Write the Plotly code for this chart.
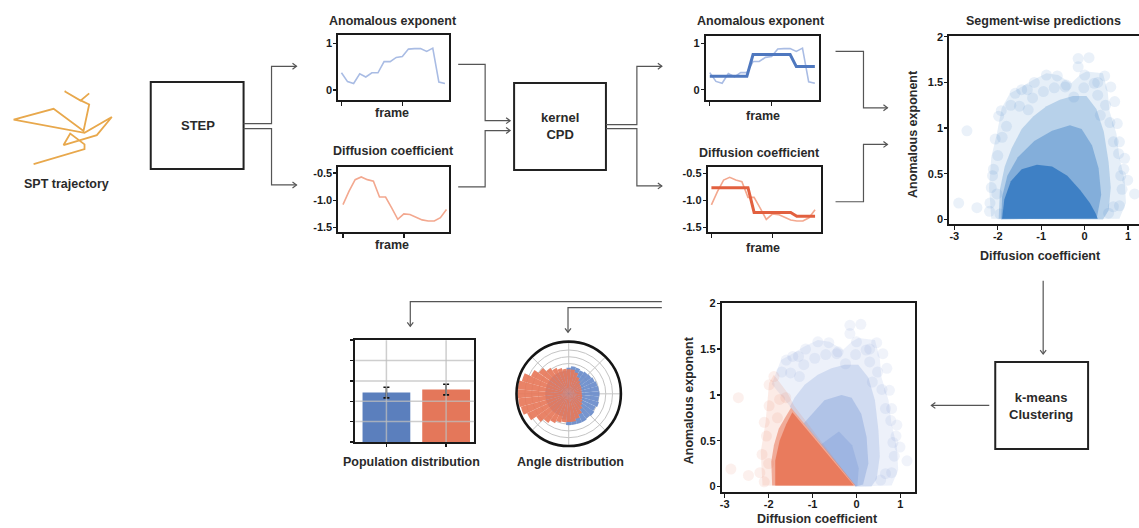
import plotly.graph_objects as go

W, H = 1139, 528
def X(px): return px / W
def Y(py): return 1 - py / H

# ---------------- data ----------------
frame_idx = [0, 1, 2, 3, 4, 5, 6, 7, 8, 9, 10, 11, 12, 13, 14, 15, 16, 17]
alpha_track = [0.37, 0.18, 0.14, 0.35, 0.28, 0.37, 0.37, 0.61, 0.61, 0.70, 0.72, 0.88, 0.89, 0.89, 0.83, 0.90, 0.17, 0.14]
logD_track = [-1.08, -0.83, -0.62, -0.57, -0.62, -0.65, -0.94, -0.94, -1.14, -1.35, -1.25, -1.26, -1.31, -1.36, -1.38, -1.38, -1.32, -1.17]
seg_x = [0, 6, 7, 13, 14, 17]
seg_alpha = [0.29, 0.29, 0.76, 0.76, 0.50, 0.50]
seg_logD = [-0.76, -0.76, -1.22, -1.22, -1.29, -1.29]

# SPT trajectory (image units)
traj_x = [95, 248, 248, 205, 185, 285, 330, 248, 35, 155, 245, 262, 233, 188, 236, 262]
traj_y = [243, 197, 183, 150, 185, 155, 100, 148, 108, 75, 142, 62, 48, 22, 50, 28]

# segment-wise predictions: density outlines (logD, alpha)
haze_D = [-2.15, -2.2, -2.15, -2.02, -1.91, -1.72, -1.49, -1.18, -0.88, -0.61, -0.31, -0.11, 0.04, 0.42, 0.53, 0.57, 0.73, 0.80, 0.92, 0.95, 0.80, -1.0]
haze_a = [0.01, 0.35, 0.68, 0.94, 1.22, 1.38, 1.44, 1.53, 1.60, 1.58, 1.49, 1.58, 1.62, 1.60, 1.40, 1.19, 0.94, 0.68, 0.43, 0.18, 0.01, 0.0]
mid_D = [-1.98, -1.95, -1.84, -1.68, -1.45, -1.18, -0.88, -0.57, -0.27, 0.04, 0.27, 0.44, 0.55, 0.60, 0.55, 0.42]
mid_a = [0.01, 0.33, 0.58, 0.78, 0.99, 1.13, 1.24, 1.31, 1.35, 1.35, 1.21, 0.96, 0.63, 0.35, 0.10, 0.0]
dense_D = [-1.92, -1.90, -1.78, -1.54, -1.16, -0.75, -0.34, -0.07, 0.17, 0.32, 0.38, 0.28]
dense_a = [0.0, 0.25, 0.48, 0.68, 0.86, 0.97, 1.03, 0.99, 0.81, 0.56, 0.27, 0.02]
core_D = [-1.90, -1.85, -1.70, -1.45, -1.10, -0.75, -0.40, -0.10, 0.12, 0.25, 0.30]
core_a = [0.01, 0.22, 0.42, 0.55, 0.60, 0.58, 0.48, 0.32, 0.18, 0.07, 0.01]
out_D = [-2.90, -2.71, -2.48, -2.19, -2.18, -2.06, -1.98, -1.92, -1.60, -1.45, -1.32, -1.16, -0.88, -0.63, -0.15, 0.10, -0.15, 0.0, 0.46, 0.69, 0.80, 0.92, 0.99, 1.15, 0.80, -2.1, -2.15, -2.0, 0.6, 0.3, -0.45, -1.7, 0.9, 0.75,
         -2.02, -2.12, -1.9, -1.8, -1.5, -1.2, -0.95, -0.7, -0.42, -0.25, -0.02, 0.22, 0.3, 0.48, 0.58, 0.66, 0.78, 0.83, 0.86, 0.66, 0.55, -1.95, 0.36, -1.3]
out_a = [0.18, 0.97, 0.13, 0.09, 0.18, 0.88, 1.13, 1.19, 1.38, 1.42, 1.42, 1.50, 1.58, 1.57, 1.76, 1.77, 1.67, 1.58, 1.57, 1.29, 0.85, 0.67, 0.43, 0.28, 0.15, 0.55, 0.35, 0.70, 1.45, 1.50, 1.45, 1.25, 0.55, 1.05,
         0.28, 0.48, 0.9, 1.02, 1.24, 1.33, 1.4, 1.44, 1.47, 1.34, 1.44, 1.49, 1.36, 1.25, 1.06, 0.85, 0.72, 0.48, 0.33, 0.14, 0.07, 0.06, 1.14, 1.2]

# k-means clusters (logD, alpha)
or_haze_D = [-2.14, -2.18, -2.07, -1.99, -1.88, -1.58, -1.42, -0.02]
or_haze_a = [0.01, 0.38, 0.70, 1.13, 1.22, 1.03, 0.88, 0.0]
or_dense_D = [-1.92, -1.94, -1.88, -1.77, -1.64, -1.49, -0.02]
or_dense_a = [0.01, 0.27, 0.45, 0.63, 0.74, 0.86, 0.01]
or_core_D = [-1.85, -1.85, -1.75, -1.60, -1.46, -0.06]
or_core_a = [0.01, 0.28, 0.50, 0.68, 0.81, 0.01]
or_out_D = [-2.86, -2.69, -2.46, -2.2, -2.15, -1.99, -1.88, -1.99, -1.61, -2.05, -2.1, -2.0, -1.75, -2.1, -1.8]
or_out_a = [0.19, 0.97, 0.12, 0.15, 0.35, 1.11, 1.20, 0.88, 0.97, 0.55, 0.70, 0.25, 0.95, 0.05, 0.75]
bl_haze_D = [-1.93, -1.72, -1.49, -1.18, -0.88, -0.61, -0.31, -0.11, 0.04, 0.42, 0.53, 0.57, 0.73, 0.80, 0.92, 0.95, 0.80, -0.02]
bl_haze_a = [1.12, 1.38, 1.44, 1.53, 1.60, 1.58, 1.49, 1.58, 1.62, 1.60, 1.40, 1.19, 0.94, 0.68, 0.43, 0.18, 0.01, 0.0]
bl_mid_D = [-1.52, -1.41, -1.18, -0.88, -0.57, -0.27, 0.04, 0.27, 0.42, 0.50, 0.53, 0.46, 0.34, -0.02]
bl_mid_a = [0.87, 0.97, 1.11, 1.22, 1.29, 1.33, 1.33, 1.19, 0.94, 0.61, 0.33, 0.08, 0.0, 0.0]
bl_dense_D = [-1.2, -0.73, -0.34, -0.11, 0.11, 0.23, 0.27, 0.15, -0.02]
bl_dense_a = [0.69, 0.94, 1.00, 0.97, 0.79, 0.54, 0.25, 0.02, 0.0]
bl_core_D = [-0.8, -0.4, -0.1, 0.05, 0.02, -0.02]
bl_core_a = [0.46, 0.6, 0.45, 0.2, 0.01, 0.0]
bl_out_D = [-1.60, -1.45, -1.32, -1.16, -0.88, -0.63, -0.15, 0.10, -0.15, 0.0, 0.46, 0.69, 0.80, 0.92, 0.99, 1.15, 0.80, 0.6, 0.3, -0.45, -1.7, 0.9, 0.75,
            -1.5, -1.2, -0.95, -0.7, -0.42, -0.25, -0.02, 0.22, 0.3, 0.48, 0.58, 0.66, 0.78, 0.83, 0.86, 0.66, 0.55, 0.36, -1.3]
bl_out_a = [1.38, 1.42, 1.42, 1.50, 1.58, 1.57, 1.76, 1.77, 1.67, 1.58, 1.57, 1.29, 0.85, 0.67, 0.43, 0.28, 0.15, 1.45, 1.50, 1.45, 1.25, 0.55, 1.05,
            1.24, 1.33, 1.4, 1.44, 1.47, 1.34, 1.44, 1.49, 1.36, 1.25, 1.06, 0.85, 0.72, 0.48, 0.33, 0.14, 0.07, 1.14, 1.2]

# population distribution
pop_x = [0, 1]
pop_values = [0.485, 0.515]
pop_err = [0.052, 0.052]

# angle distribution
angle_bins = [0, 10, 20, 30, 40, 50, 60, 70, 80, 90, 100, 110, 120, 130, 140, 150, 160, 170,
              180, 190, 200, 210, 220, 230, 240, 250, 260, 270, 280, 290, 300, 310, 320, 330, 340, 350]
orange_r = [0.25, 0.25, 0.26, 0.27, 0.28, 0.32, 0.36, 0.43, 0.47, 0.47, 0.48, 0.51, 0.55, 0.61, 0.70, 0.80, 0.93, 0.98,
            0.98, 0.97, 0.95, 0.88, 0.76, 0.68, 0.62, 0.57, 0.55, 0.54, 0.54, 0.50, 0.44, 0.37, 0.32, 0.29, 0.27, 0.26]
blue_r = [0.59, 0.58, 0.57, 0.55, 0.53, 0.52, 0.50, 0.52, 0.53, 0.50, 0.45, 0.45, 0.45, 0.45, 0.45, 0.45, 0.45, 0.45,
          0.45, 0.45, 0.45, 0.45, 0.45, 0.45, 0.45, 0.45, 0.50, 0.60, 0.60, 0.60, 0.60, 0.58, 0.60, 0.57, 0.60, 0.58]

# ---------------- styles ----------------
FONT = "Liberation Sans, Arial, sans-serif"
TXT = "#2a2a2a"
LIGHT_BLUE = "#a9bce4"
DARK_BLUE = "#4f78bf"
LIGHT_OR = "#f3a88f"
DARK_OR = "#e2603f"
TRAJ = "#e8a84c"

fig = go.Figure()

def poly(xs, ys, color, xa, ya):
    fig.add_trace(go.Scatter(x=xs, y=ys, mode="lines", fill="toself", fillcolor=color,
                             line=dict(width=0), hoverinfo="skip", xaxis=xa, yaxis=ya))

# small line plots
fig.add_trace(go.Scatter(x=frame_idx, y=alpha_track, mode="lines", line=dict(color=LIGHT_BLUE, width=1.6), xaxis="x", yaxis="y"))
fig.add_trace(go.Scatter(x=frame_idx, y=logD_track, mode="lines", line=dict(color=LIGHT_OR, width=1.6), xaxis="x2", yaxis="y2"))
fig.add_trace(go.Scatter(x=frame_idx, y=alpha_track, mode="lines", line=dict(color=LIGHT_BLUE, width=1.6), xaxis="x3", yaxis="y3"))
fig.add_trace(go.Scatter(x=seg_x, y=seg_alpha, mode="lines", line=dict(color=DARK_BLUE, width=3), xaxis="x3", yaxis="y3"))
fig.add_trace(go.Scatter(x=frame_idx, y=logD_track, mode="lines", line=dict(color=LIGHT_OR, width=1.6), xaxis="x4", yaxis="y4"))
fig.add_trace(go.Scatter(x=seg_x, y=seg_logD, mode="lines", line=dict(color=DARK_OR, width=3), xaxis="x4", yaxis="y4"))

# segment-wise predictions scatter
B1 = "52,122,194"
poly(haze_D, haze_a, f"rgba({B1},0.12)", "x5", "y5")
poly(mid_D, mid_a, f"rgba({B1},0.26)", "x5", "y5")
poly(dense_D, dense_a, f"rgba({B1},0.40)", "x5", "y5")
poly(core_D, core_a, f"rgba({B1},0.88)", "x5", "y5")
fig.add_trace(go.Scatter(x=out_D, y=out_a, mode="markers",
                         marker=dict(size=11, color=f"rgba({B1},0.10)", line=dict(width=0)),
                         xaxis="x5", yaxis="y5"))

# clustered scatter
B2 = "104,140,210"
O2 = "232,118,88"
poly(bl_haze_D, bl_haze_a, f"rgba({B2},0.12)", "x6", "y6")
poly(bl_mid_D, bl_mid_a, f"rgba({B2},0.22)", "x6", "y6")
poly(bl_dense_D, bl_dense_a, f"rgba({B2},0.3)", "x6", "y6")
poly(bl_core_D, bl_core_a, f"rgba({B2},0.25)", "x6", "y6")
fig.add_trace(go.Scatter(x=bl_out_D, y=bl_out_a, mode="markers",
                         marker=dict(size=11, color=f"rgba({B2},0.10)", line=dict(width=0)),
                         xaxis="x6", yaxis="y6"))
poly(or_haze_D, or_haze_a, f"rgba({O2},0.15)", "x6", "y6")
poly(or_dense_D, or_dense_a, f"rgba({O2},0.55)", "x6", "y6")
poly(or_core_D, or_core_a, f"rgba({O2},0.92)", "x6", "y6")
fig.add_trace(go.Scatter(x=or_out_D, y=or_out_a, mode="markers",
                         marker=dict(size=11, color=f"rgba({O2},0.11)", line=dict(width=0)),
                         xaxis="x6", yaxis="y6"))

# population bars
fig.add_trace(go.Bar(x=pop_x, y=pop_values, width=0.8, marker=dict(color=["#5b7fbd", "#e4775a"], line=dict(width=0)),
                     error_y=dict(type="data", array=pop_err, color="#111", thickness=1.6, width=3),
                     xaxis="x7", yaxis="y7"))

# trajectory
fig.add_trace(go.Scatter(x=traj_x, y=traj_y, mode="lines", line=dict(color=TRAJ, width=1.8), xaxis="x8", yaxis="y8"))

# angle distribution
fig.add_trace(go.Barpolar(r=blue_r, theta=angle_bins, width=10, marker=dict(color="#6b8dcb", line=dict(width=0)), opacity=0.92))
fig.add_trace(go.Barpolar(r=orange_r, theta=angle_bins, width=10, marker=dict(color="#e8795b", line=dict(width=0)), opacity=0.92))

# ---------------- axes ----------------
tickfont = dict(family=FONT, size=11, color="#1a1a1a", weight="bold")

def frame_axis(dom, rng, mirror=True, **kw):
    d = dict(domain=dom, range=rng, showline=True, linewidth=2, linecolor="#1a1a1a", mirror=mirror,
             ticks="outside", ticklen=3, tickwidth=1.3, tickcolor="#1a1a1a", showgrid=False,
             zeroline=False, tickfont=tickfont, fixedrange=True, ticklabelstandoff=-1)
    d.update(kw)
    return d

D_TICKS = [-3, -2, -1, 0, 1]
D_TEXT = ["-3", "-2", "-1", "0", "1"]
A_TICKS = [0, 0.5, 1, 1.5, 2]
A_TEXT = ["0", "0.5", "1", "1.5", "2"]

lay = dict(
    width=W, height=H, margin=dict(l=0, r=0, t=0, b=0),
    paper_bgcolor="white", plot_bgcolor="white", showlegend=False,
    font=dict(family=FONT, color=TXT),
)
XS = -4  # x tick label standoff
# A1
lay["xaxis"] = frame_axis([X(337), X(448)], [-0.5, 17.7], anchor="y", tickvals=[0, 10], showticklabels=False, ticklen=4)
lay["yaxis"] = frame_axis([Y(96), Y(30)], [-0.213, 1.19], anchor="x", tickvals=[0, 1], ticktext=["0", "1"])
# D1
lay["xaxis2"] = frame_axis([X(337), X(448)], [-0.75, 17.45], anchor="y2", tickvals=[0, 10], showticklabels=False, ticklen=4)
lay["yaxis2"] = frame_axis([Y(230), Y(164)], [-1.59, -0.39], anchor="x2", tickvals=[-1.5, -1.0, -0.5], ticktext=["-1.5", "-1.0", "-0.5"])
# A2
lay["xaxis3"] = frame_axis([X(705), X(818)], [-0.65, 17.6], anchor="y3", tickvals=[0, 10], showticklabels=False, ticklen=4)
lay["yaxis3"] = frame_axis([Y(96), Y(31)], [-0.22, 1.17], anchor="x3", tickvals=[0, 1], ticktext=["0", "1"])
# D2
lay["xaxis4"] = frame_axis([X(707), X(820)], [-0.6, 17.9], anchor="y4", tickvals=[0, 10], showticklabels=False, ticklen=4)
lay["yaxis4"] = frame_axis([Y(230), Y(164)], [-1.59, -0.38], anchor="x4", tickvals=[-1.5, -1.0, -0.5], ticktext=["-1.5", "-1.0", "-0.5"])
# S1
lay["xaxis5"] = frame_axis([X(949), 1.0], [-3.115, 1.25], anchor="y5", tickvals=D_TICKS, ticktext=D_TEXT, ticklen=4, ticklabelstandoff=XS)
lay["yaxis5"] = frame_axis([Y(222), Y(31)], [-0.054, 2.011], mirror=False, anchor="x5", tickvals=A_TICKS, ticktext=A_TEXT)
# S2
lay["xaxis6"] = frame_axis([X(721), X(915)], [-3.068, 1.341], anchor="y6", tickvals=D_TICKS, ticktext=D_TEXT, ticklen=4, ticklabelstandoff=XS)
lay["yaxis6"] = frame_axis([Y(493), Y(301)], [-0.065, 2.008], anchor="x6", tickvals=A_TICKS, ticktext=A_TEXT)
# Bar
lay["xaxis7"] = frame_axis([X(354), X(473)], [-0.52, 1.47], anchor="y7", tickvals=[0, 1], showticklabels=False, ticklen=3)
lay["yaxis7"] = frame_axis([Y(442), Y(339)], [0, 1], anchor="x7", tickvals=[0, 0.2, 0.4, 0.6, 0.8, 1.0], showticklabels=False, ticklen=3)
# Trajectory
lay["xaxis8"] = dict(domain=[0, X(120)], range=[0, 360], visible=False, anchor="y8", fixedrange=True)
lay["yaxis8"] = dict(domain=[Y(170), Y(80)], range=[270, 0], visible=False, anchor="x8", fixedrange=True)

cx, cy, rad = 567.7, 393.3, 52.8
lay["polar"] = dict(
    domain=dict(x=[X(cx - rad), X(cx + rad)], y=[Y(cy + rad), Y(cy - rad)]),
    bgcolor="white", barmode="overlay",
    radialaxis=dict(range=[0, 1], tickvals=[0.17, 0.3, 0.43, 0.58, 0.71, 0.84], showticklabels=False, ticks="",
                    showline=False, gridcolor="#c4c4c4", gridwidth=1),
    angularaxis=dict(tickvals=[0, 45, 90, 135, 180, 225, 270, 315], showticklabels=False, ticks="",
                     showline=True, linecolor="#151515", linewidth=2.6, gridcolor="#c4c4c4", gridwidth=1,
                     direction="counterclockwise", rotation=0),
)

# ---------------- diagram shapes ----------------
LC = "#555555"
shapes = []

def pline(pts, color=LC, w=1.2):
    p = "M " + " L ".join(f"{X(a):.5f},{Y(b):.5f}" for a, b in pts)
    shapes.append(dict(type="path", path=p, xref="paper", yref="paper", line=dict(color=color, width=w), layer="above"))

def head(x, y, d):
    if d == "r":
        pts = [(x - 4, y - 3), (x, y), (x - 4, y + 3)]
    elif d == "l":
        pts = [(x + 4, y - 3), (x, y), (x + 4, y + 3)]
    else:
        pts = [(x - 3, y - 4), (x, y), (x + 3, y - 4)]
    pline(pts)

def box(x0, y0, x1, y1):
    shapes.append(dict(type="rect", x0=X(x0), x1=X(x1), y0=Y(y1), y1=Y(y0), xref="paper", yref="paper",
                       line=dict(color="#222", width=2), fillcolor="rgba(0,0,0,0)"))

box(149, 78, 242, 166)
box(513, 79, 605, 167)
box(995, 361, 1088, 449)

pline([(242, 120), (270, 120), (270, 62), (295, 62)]); head(295, 62, "r")
pline([(242, 125), (270, 125), (270, 182), (295, 182)]); head(295, 182, "r")
pline([(457, 60), (484, 60), (484, 117), (509, 117)]); head(509, 117, "r")
pline([(457, 184), (484, 184), (484, 127), (509, 127)]); head(509, 127, "r")
pline([(605, 121), (636, 121), (636, 62), (661, 62)]); head(661, 62, "r")
pline([(605, 125), (636, 125), (636, 183), (661, 183)]); head(661, 183, "r")
pline([(835, 47), (863, 47), (863, 104), (887, 104)]); head(887, 104, "r")
pline([(835, 199), (863, 199), (863, 141), (887, 141)]); head(887, 141, "r")
pline([(1043, 279), (1043, 353)]); head(1043, 353, "d")
pline([(989, 405), (931, 405)]); head(931, 405, "l")
pline([(661, 300), (409, 300), (409, 325)]); head(409, 325, "d")
pline([(661, 306), (567, 306), (567, 331)]); head(567, 331, "d")

# bar chart grid drawn above bars
for gv in [0.2, 0.4, 0.6, 0.8]:
    shapes.append(dict(type="line", xref="x7 domain", yref="y7", x0=0, x1=1, y0=gv, y1=gv,
                       line=dict(color="rgba(190,190,190,0.75)", width=1.5), layer="above"))
for gv in [0, 1]:
    shapes.append(dict(type="line", xref="x7", yref="y7 domain", x0=gv, x1=gv, y0=0, y1=1,
                       line=dict(color="rgba(190,190,190,0.75)", width=1.5), layer="above"))

lay["shapes"] = shapes

# ---------------- text ----------------
anns = []
def txt(s, x, y, size=12.5, angle=0):
    anns.append(dict(text=s, x=X(x), y=Y(y), xref="paper", yref="paper", showarrow=False,
                     xanchor="center", yanchor="middle", textangle=angle,
                     font=dict(family=FONT, size=size, color=TXT, weight="bold")))

txt("SPT trajectory", 65, 181)
txt("STEP", 196, 122, 13)
txt("Anomalous exponent", 392, 16)
txt("frame", 391, 109)
txt("Diffusion coefficient", 392, 148)
txt("frame", 391, 243)
txt("kernel<br>CPD", 559, 122, 13)
txt("Anomalous exponent", 760, 16)
txt("frame", 762, 112)
txt("Diffusion coefficient", 759, 150)
txt("frame", 762, 246)
txt("Segment-wise predictions", 1043, 16)
txt("Diffusion coefficient", 1040, 254)
txt("Anomalous exponent", 912, 130, 12.5, -90)
txt("k-means<br>Clustering", 1041, 406, 13)
txt("Diffusion coefficient", 817, 520)
txt("Anomalous exponent", 689, 400, 12.5, -90)
txt("Population distribution", 410, 462)
txt("Angle distribution", 569, 462)
lay["annotations"] = anns

fig.update_layout(**lay)
fig.write_html("out.html", config={"displayModeBar": False, "staticPlot": True},
               post_script="document.body.style.margin='0px';document.body.style.overflow='hidden';")
